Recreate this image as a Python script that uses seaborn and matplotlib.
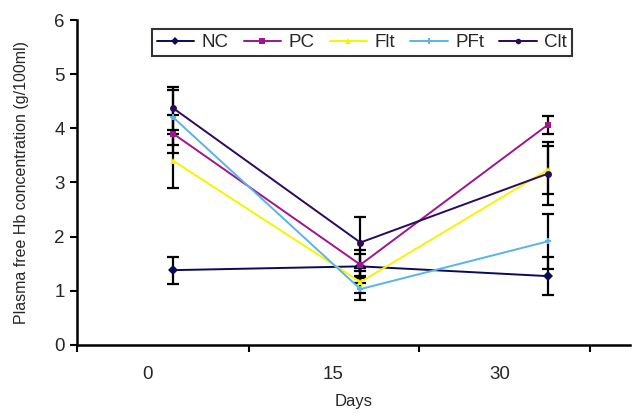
import numpy as np
import pandas as pd
import matplotlib
matplotlib.use('Agg')
import matplotlib.pyplot as plt
import seaborn as sns

# data
days = [0, 15, 30]
groups = ['NC', 'PC', 'Flt', 'PFt', 'Clt']
nc = [1.38, 1.45, 1.27]
pc = [3.90, 1.48, 4.06]
flt = [3.40, 1.16, 3.23]
pft = [4.20, 1.03, 1.91]
clt = [4.37, 1.89, 3.16]
nc_err = [0.25, 0.30, 0.35]
pc_err = [0.35, 0.20, 0.16]
flt_err = [0.50, 0.20, 0.45]
pft_err = [0.50, 0.20, 0.50]
clt_err = [0.40, 0.47, 0.58]

colors = ['#0a0a5a', '#a0148c', '#f5f500', '#5ab4e6', '#2a0a5a']
markers = ['D', 's', '^', 'P', 'o']

sns.set_style('white')
plt.rcParams['font.family'] = ['Liberation Sans', 'DejaVu Sans']

df = pd.DataFrame({
    'day': days * 5,
    'group': [g for g in groups for _ in days],
    'value': nc + pc + flt + pft + clt,
    'err': nc_err + pc_err + flt_err + pft_err + clt_err,
})

fig = plt.figure(figsize=(6.33, 4.17), dpi=100)
ax = fig.add_axes([0.122, 0.173, 0.873, 0.779])

# error bars first, lines on top
for g in groups:
    sub = df[df['group'] == g]
    ax.errorbar(sub['day'], sub['value'], yerr=sub['err'], fmt='none',
                ecolor='black', elinewidth=1.6, capsize=4, capthick=1.6, zorder=2)

sns.lineplot(data=df, x='day', y='value', hue='group', style='group',
             hue_order=groups, style_order=groups, palette=colors,
             markers=markers, dashes=False, markersize=5, linewidth=1.4,
             markeredgewidth=0, ax=ax, zorder=3)

ax.set_xlim(-7.7, 36.6)
ax.set_ylim(0, 6)
ax.set_yticks(range(0, 7))
ax.set_xticks([-7.7, 6.1, 19.7, 33.4])
ax.set_xticklabels([])
ax.set_xticks([-2.1, 12.8, 26.2], minor=True)
ax.set_xticklabels([str(d) for d in days], minor=True)
ax.tick_params(axis='x', which='major', direction='out', length=5, width=1.5, color='black')
ax.tick_params(axis='x', which='minor', length=0, pad=15, labelsize=13.5)
ax.tick_params(axis='y', direction='out', length=5, width=1.5, color='black',
               labelsize=13.5, pad=4)
ax.yaxis.set_ticks_position('left')
ax.xaxis.set_ticks_position('bottom')

for side in ['top', 'right']:
    ax.spines[side].set_visible(False)
for side in ['left', 'bottom']:
    ax.spines[side].set_color('black')
    ax.spines[side].set_linewidth(1.8)

ax.set_xlabel('Days', fontsize=12, labelpad=8)
ax.set_ylabel('Plasma free Hb concentration (g/100ml)', fontsize=11.5, labelpad=18)

handles, labels = ax.get_legend_handles_labels()
leg = ax.legend(handles, labels, loc='upper center', bbox_to_anchor=(0.515, 1.0), ncol=5,
                frameon=True, fancybox=False, fontsize=13.5, handlelength=2.0,
                columnspacing=0.8, handletextpad=0.4, borderpad=0.25, markerscale=0.8)
leg.get_frame().set_edgecolor('black')
leg.get_frame().set_linewidth(1.5)

fig.savefig('out.png', dpi=100)
